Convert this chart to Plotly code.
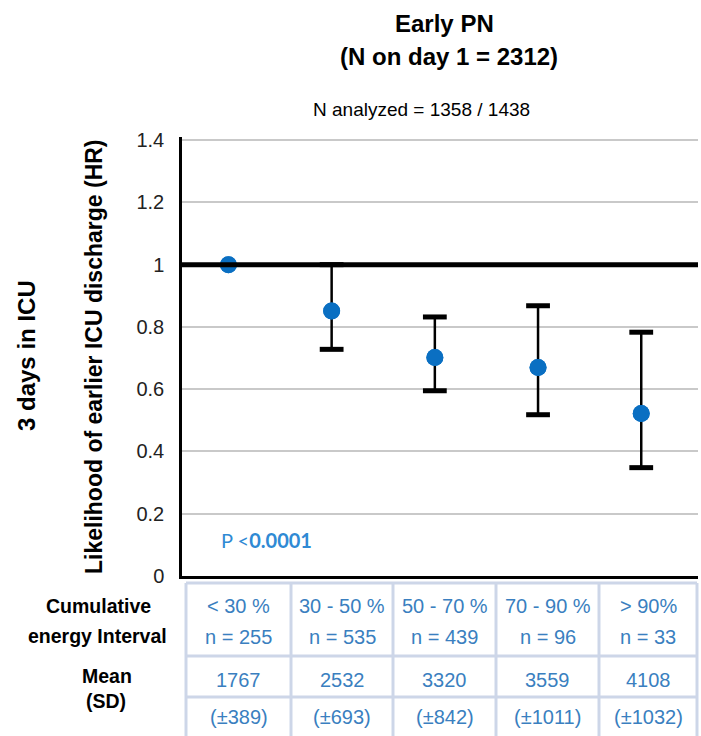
import plotly.graph_objects as go

# Energy-interval groups and hazard ratios with 95% CI
intervals = ["< 30 %", "30 - 50 %", "50 - 70 %", "70 - 90 %", "> 90%"]
group_n = [255, 535, 439, 96, 33]
hr = [1.0, 0.851, 0.702, 0.670, 0.522]
ci_low = [None, 0.728, 0.595, 0.518, 0.348]
ci_high = [None, 1.0, 0.832, 0.868, 0.783]
energy_mean = [1767, 2532, 3320, 3559, 4108]
energy_sd = [389, 693, 842, 1011, 1032]
reference_hr = 1.0
y_ticks = [0, 0.2, 0.4, 0.6, 0.8, 1, 1.2, 1.4]
y_tick_text = ["0", "0.2", "0.4", "0.6", "0.8", "1", "1.2", "1.4"]

W, H = 701, 736
ML, MR, MT, MB = 182, 3, 137, 160
PW, PH = W - ML - MR, H - MT - MB

BLUE_MARK = "#0a6fc2"
BLUE_TXT = "#3a7fc0"
SANS = "Liberation Sans, Arial, sans-serif"


def px(x):
    return (x - ML) / PW


def py(y):
    return (H - MB - y) / PH


fig = go.Figure()

# heavy reference line at HR = 1, spanning the full plot width
fig.add_trace(go.Scatter(
    x=[0, 1], y=[reference_hr, reference_hr], xaxis="x2", mode="lines",
    line=dict(color="black", width=5), showlegend=False, hoverinfo="skip",
))

err_up = [None if h is None else h - v for v, h in zip(hr, ci_high)]
err_dn = [None if l is None else v - l for v, l in zip(hr, ci_low)]

fig.add_trace(go.Scatter(
    x=intervals, y=hr, mode="markers",
    marker=dict(size=17, color=BLUE_MARK),
    error_y=dict(type="data", array=err_up, arrayminus=err_dn,
                 color="black", thickness=2.5, width=0),
    showlegend=False, hoverinfo="skip",
))
# heavy caps on the CI whiskers
cap_x = [c for c, l in zip(intervals, ci_low) if l is not None]
cap_lo = [l for l in ci_low if l is not None]
cap_hi = [h for h in ci_high if h is not None]
for ys in (cap_lo, cap_hi):
    fig.add_trace(go.Scatter(
        x=cap_x, y=ys, mode="markers",
        marker=dict(symbol="line-ew", size=17, line=dict(width=5, color="black")),
        showlegend=False, hoverinfo="skip", cliponaxis=False,
    ))
# redraw the points above the whiskers
fig.add_trace(go.Scatter(
    x=intervals, y=hr, mode="markers",
    marker=dict(size=17, color=BLUE_MARK),
    showlegend=False, hoverinfo="skip",
))

shapes = []
# table grid
TB = "#cdd6e8"
col_edges = [186, 291, 393, 496, 599, 697]
row_edges = [583, 656, 697, 740]
for r in row_edges:
    shapes.append(dict(type="line", xref="paper", yref="paper",
                       x0=px(col_edges[0]), x1=px(col_edges[-1]), y0=py(r), y1=py(r),
                       line=dict(color=TB, width=3)))
for c in col_edges:
    shapes.append(dict(type="line", xref="paper", yref="paper",
                       x0=px(c), x1=px(c), y0=py(row_edges[0]), y1=py(row_edges[-1]),
                       line=dict(color=TB, width=3)))

ann = []


def text(x, y, s, size, color="black", family=SANS, weight="normal", angle=0, xanchor="center"):
    ann.append(dict(x=px(x), y=py(y), xref="paper", yref="paper", text=s, showarrow=False,
                    xanchor=xanchor, yanchor="middle", textangle=angle,
                    font=dict(size=size, color=color, family=family, weight=weight)))


# titles
text(444, 24, "Early PN", 24, weight="bold")
text(449, 57, "(N on day 1 = 2312)", 24, weight="bold")
text(421, 110, "N analyzed = 1358 / 1438", 19)

# axis titles
text(94, 357, "Likelihood of earlier ICU discharge (HR)", 23, weight="bold", angle=-90)
text(26, 356, "3 days in ICU", 24, weight="bold", angle=-90)

# p-value
text(219, 540, "P &lt;<b>0.0001</b>", 20, color="#2f8ad4", family="Lato, Open Sans, sans-serif",
     xanchor="left")

# table body
centers = [(a + b) / 2 for a, b in zip(col_edges[:-1], col_edges[1:])]
for cx, lab, n, m, sd in zip(centers, intervals, group_n, energy_mean, energy_sd):
    text(cx, 606, lab, 20, color=BLUE_TXT)
    text(cx, 637, f"n = {n}", 20, color=BLUE_TXT)
    text(cx, 680, f"{m}", 20, color=BLUE_TXT)
    text(cx, 717, f"(\u00b1{sd})", 20, color=BLUE_TXT)

text(98, 606, "Cumulative", 19.5, weight="bold")
text(97, 636, "energy Interval", 19.5, weight="bold")
text(107, 676, "Mean", 19.5, weight="bold")
text(106, 701, "(SD)", 19.5, weight="bold")

fig.update_layout(
    width=W, height=H,
    margin=dict(l=ML, r=MR, t=MT, b=MB),
    paper_bgcolor="white", plot_bgcolor="white",
    shapes=shapes, annotations=ann,
    xaxis=dict(type="category", range=[-0.45, 4.55], showticklabels=False,
               showgrid=False, zeroline=False, showline=True, linecolor="black",
               linewidth=3, ticks=""),
    xaxis2=dict(overlaying="x", range=[0, 1], visible=False),
    yaxis=dict(range=[0, 1.41], tickvals=y_ticks, ticktext=y_tick_text,
               showgrid=True, gridcolor="#c9c9c9", gridwidth=1.5, zeroline=False,
               showline=True, linecolor="black", linewidth=2.5, ticks="",
               ticklabelstandoff=11,
               tickfont=dict(size=20, color="#222", family=SANS)),
)

fig.write_html("out.html")
